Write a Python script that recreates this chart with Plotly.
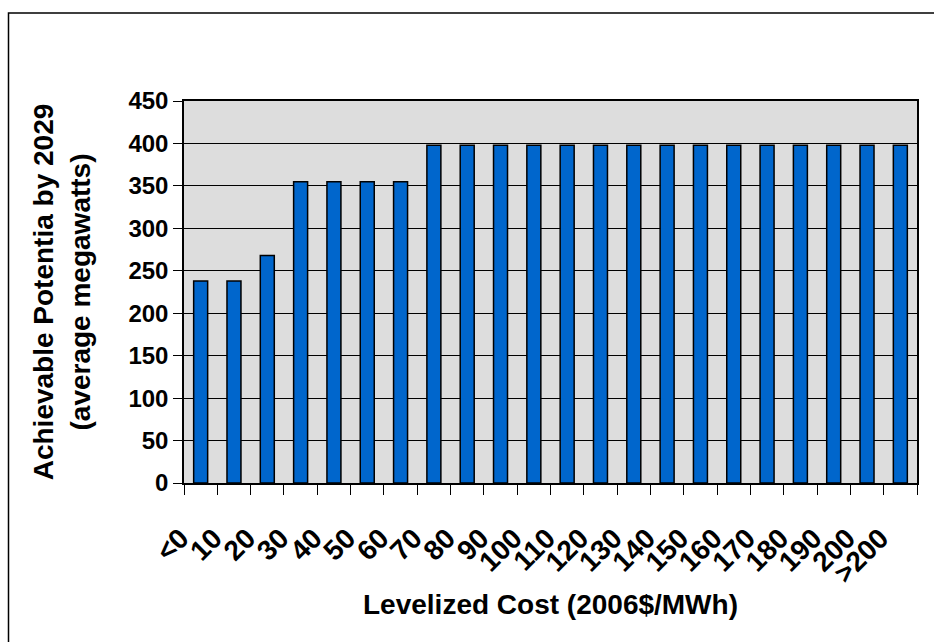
import plotly.graph_objects as go

categories = ["<0", "10", "20", "30", "40", "50", "60", "70", "80", "90", "100",
              "110", "120", "130", "140", "150", "160", "170", "180", "190", "200", ">200"]
values = [238, 238, 268, 355, 355, 355, 355, 398, 398, 398, 398,
          398, 398, 398, 398, 398, 398, 398, 398, 398, 398, 398]
y_ticks = [0, 50, 100, 150, 200, 250, 300, 350, 400, 450]

W, H = 934, 642
ML, MR, MT, MB = 184, 17, 101, 159
pw, ph = W - ML - MR, H - MT - MB

FAM = "Liberation Sans, Arial, sans-serif"

fig = go.Figure(go.Bar(
    x=categories, y=values,
    marker=dict(color="#0066CC", line=dict(color="black", width=1.5)),
    width=0.42,
))

def px_x(p):
    return (p - ML) / pw

def px_y(p):
    return (H - MB - p) / ph

fig.update_layout(
    width=W, height=H,
    margin=dict(l=ML, r=MR, t=MT, b=MB),
    paper_bgcolor="white",
    plot_bgcolor="#DDDDDD",
    showlegend=False,
    font=dict(family=FAM, color="black"),
    xaxis=dict(
        type="category",
        tickmode="array",
        tickvals=categories,
        ticktext=categories,
        tickangle=-45,
        tickfont=dict(size=28, family=FAM, color="black", weight="bold"),
        ticks="outside", ticklen=10, tickcolor="black", tickwidth=1,
        tickson="boundaries",
        ticklabelstandoff=26,
        ticklabelshift=-20,
        showline=True, linecolor="black", linewidth=1.5, mirror=True,
        showgrid=False,
        title=dict(text="<b>Levelized Cost (2006$/MWh)</b>",
                   font=dict(size=28, family=FAM, color="black"),
                   standoff=6),
    ),
    yaxis=dict(
        range=[0, 450],
        tickvals=y_ticks,
        tickfont=dict(size=24, family=FAM, color="black", weight="bold"),
        ticks="outside", ticklen=9, tickcolor="black", tickwidth=1,
        showline=True, linecolor="black", linewidth=1.5, mirror=True,
        showgrid=True, gridcolor="black", gridwidth=1,
        zeroline=False,
        title=dict(text="<b>Achievable Potentia by 2029<br>(average megawatts)</b>",
                   font=dict(size=28, family=FAM, color="black"),
                   standoff=30),
    ),
    shapes=[dict(
        type="rect", xref="paper", yref="paper",
        x0=px_x(8.5), x1=px_x(960), y0=px_y(700), y1=px_y(13),
        line=dict(color="black", width=1.5), fillcolor="rgba(0,0,0,0)", layer="below",
    )],
)

fig.write_html(
    "out.html",
    config={"displayModeBar": False},
    post_script="document.body.style.margin='0';document.body.style.overflow='hidden';",
)
